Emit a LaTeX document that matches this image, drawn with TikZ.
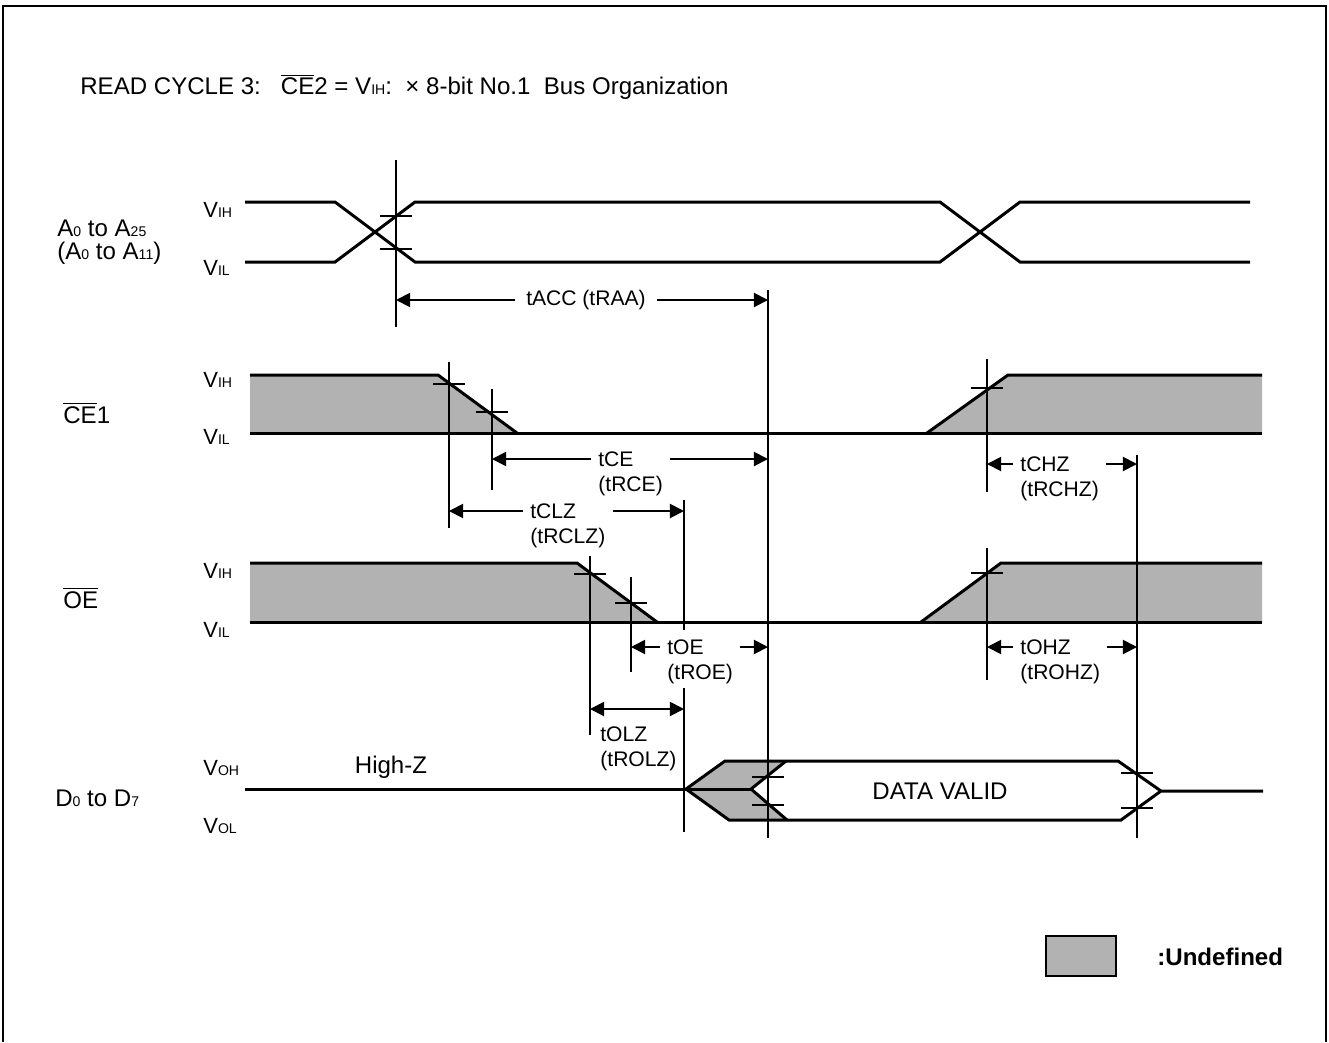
\documentclass[tikz,border=0pt]{standalone}
\usepackage{fontspec}
\setmainfont{Liberation Sans}
\usetikzlibrary{arrows.meta}
\newcommand{\lo}[1]{{\fontsize{8}{8}\selectfont #1}}
\newcommand{\ovl}[1]{$\overline{\mbox{#1}}$}

\begin{document}
\begin{tikzpicture}[x=0.02cm,y=-0.02cm,
  sig/.style={line width=1.7pt},
  markline/.style={line width=1.1pt},
  dimarr/.style={line width=1.1pt,-{Triangle[length=8pt,width=8pt]}},
  lbl/.style={font=\fontsize{13.7}{15}\selectfont,inner sep=0pt},
  lvl/.style={font=\fontsize{12.5}{14}\selectfont,inner sep=0pt},
  dimlbl/.style={font=\fontsize{12}{14}\selectfont,inner xsep=4pt,inner ysep=1pt},
  undef/.style={fill=black!30}]
\useasboundingbox (0,0) rectangle (1329,1042);
\draw[line width=0.8pt] (3,1042) -- (3,6) -- (1326,6) -- (1326,1042);

\node[lbl,anchor=west] (title) at (80,87) {READ CYCLE 3:\ \ \ \ovl{CE}2 = V\lo{IH}:\ \ × 8-bit No.1\ \ Bus Organization};

% signal names and levels
\node[lbl,anchor=west] (addr) at (57,228) {A\lo{0} to A\lo{25}};
\node[lbl,anchor=west] (addr2) at (57,253) {(A\lo{0} to A\lo{11})};
\node[lbl,anchor=west] (ce) at (63,413) {\ovl{CE}1};
\node[lbl,anchor=west] (oe) at (63,598) {\ovl{OE}};
\node[lbl,anchor=west] (dq) at (55,798) {D\lo{0} to D\lo{7}};
\foreach \y/\t in {210/IH,268/IL,380/IH,437/IL,571/IH,630/IL,768/OH,826/OL}
  \node[lvl,anchor=west] at (203,\y) {V\lo{\t}};

% address
\draw[sig] (245,202) -- (335,202) -- (415,262) -- (940,262) -- (1020,202) -- (1250,202);
\draw[sig] (245,262) -- (335,262) -- (415,202) -- (940,202) -- (1020,262) -- (1250,262);

% CE1
\fill[undef] (250,375) -- (438,375) -- (517,433) -- (250,433) -- cycle;
\fill[undef] (927,433) -- (1008,375) -- (1262,375) -- (1262,433) -- cycle;
\draw[sig] (250,375) -- (438,375) -- (517,433);
\draw[sig] (250,433) -- (1262,433);
\draw[sig] (927,433) -- (1008,375) -- (1262,375);

% OE
\fill[undef] (250,563) -- (577,563) -- (657,622) -- (250,622) -- cycle;
\fill[undef] (921,622) -- (1001,563) -- (1262,563) -- (1262,622) -- cycle;
\draw[sig] (250,563) -- (577,563) -- (657,622);
\draw[sig] (250,622) -- (1262,622);
\draw[sig] (921,622) -- (1001,563) -- (1262,563);

% data
\fill[undef] (686,789) -- (725,761) -- (786,761) -- (751,789) -- cycle;
\fill[undef] (686,789) -- (729,820) -- (787,820) -- (751,789) -- cycle;
\draw[sig] (245,789) -- (751,789);
\draw[sig] (786,761) -- (751,789) -- (787,820);
\draw[sig] (1263,791) -- (1161,791) -- (1118,761) -- (725,761) -- (686,789) -- (729,820) -- (1121,820) -- (1161,791);
\node[lbl] (hiz) at (391,767) {High-Z};
\node[lbl] (valid) at (940,791) {DATA VALID};

% timing marks
\foreach \n/\x/\ya/\yb in {a1/396/160/327, c1/449/362/528, c2/492/389/490, c3/987/359/492,
    o1/590/556/735, o2/631/577/672, o3/987/548/680, v2/768/290/838, v3/1137/455/838} {
  \coordinate (\n) at (\x,\ya);
  \coordinate (\n e) at (\x,\yb);
  \draw[markline] (\n) -- (\n e);
}
\coordinate (v1) at (684,500);
\coordinate (v1 e) at (684,832);
\foreach \x/\y in {396/216, 396/249, 449/384, 492/412, 987/388, 590/574, 631/603, 987/573,
    768/777, 768/805, 1137/773, 1137/808}
  \draw[markline] (\x-16,\y) -- (\x+16,\y);

% tACC
\node[dimlbl,inner xsep=6pt] (tacc) at (586,300) {tACC (tRAA)};
\draw[dimarr] (tacc.west) -- (tacc.west -| a1);
\draw[dimarr] (tacc.east) -- (tacc.east -| v2);

% tCE
\node[dimlbl,anchor=west] (tce) at (591,459) {tCE};
\node[dimlbl,anchor=north west,yshift=-3.4pt] (tcer) at (tce.south west) {(tRCE)};
\draw[dimarr] (tce.west) -- (tce.west -| c2);
\draw[dimarr] (tce.west -| tcer.east) -- (tce.west -| v2);

% tCLZ
\node[dimlbl,anchor=west] (tclz) at (523,511) {tCLZ};
\node[dimlbl,anchor=north west,yshift=-3.4pt] (tclzr) at (tclz.south west) {(tRCLZ)};
\draw[dimarr] (tclz.west) -- (tclz.west -| c1);
\draw[dimarr] (tclz.west -| tclzr.east) -- (tclz.west -| v1);

% tOE
\node[dimlbl,anchor=west] (toe) at (660,647) {tOE};
\node[dimlbl,anchor=north west,yshift=-3.4pt] (toer) at (toe.south west) {(tROE)};
\draw[dimarr] (toe.west) -- (toe.west -| o2);
\draw[dimarr] (toe.west -| toer.east) -- (toe.west -| v2);
% v1 is broken by the tOE label
\draw[markline] (v1) -- ([yshift=4pt]v1 |- toe.north);
\draw[markline] ([yshift=-1pt]v1 |- toer.south) -- (v1 e);

% tOLZ
\coordinate (olzl) at (590,709);
\coordinate (olzr) at (684,709);
\draw[dimarr,{Triangle[length=8pt,width=8pt]}-{Triangle[length=8pt,width=8pt]}] (olzl) -- (olzr);
\node[dimlbl,anchor=west] (tolz) at (593,734) {tOLZ};
\node[dimlbl,anchor=north west,yshift=-3.4pt] (tolzr) at (tolz.south west) {(tROLZ)};

% tCHZ
\node[dimlbl,anchor=west] (tchz) at (1013,464) {tCHZ};
\node[dimlbl,anchor=north west,yshift=-3.4pt] (tchzr) at (tchz.south west) {(tRCHZ)};
\draw[dimarr] (tchz.west) -- (tchz.west -| c3);
\draw[dimarr] (tchz.west -| tchzr.east) -- (tchz.west -| v3);

% tOHZ
\node[dimlbl,anchor=west] (tohz) at (1013,647) {tOHZ};
\node[dimlbl,anchor=north west,yshift=-3.4pt] (tohzr) at (tohz.south west) {(tROHZ)};
\draw[dimarr] (tohz.west) -- (tohz.west -| o3);
\draw[dimarr] (tohz.west -| tohzr.east) -- (tohz.west -| v3);

% legend
\draw[line width=1.4pt,undef] (1046,936) rectangle (1116,976);
\node[lbl,anchor=west,font=\fontsize{13.7}{15}\selectfont\bfseries] (legend) at (1157,957) {:Undefined};
\end{tikzpicture}
\end{document}
